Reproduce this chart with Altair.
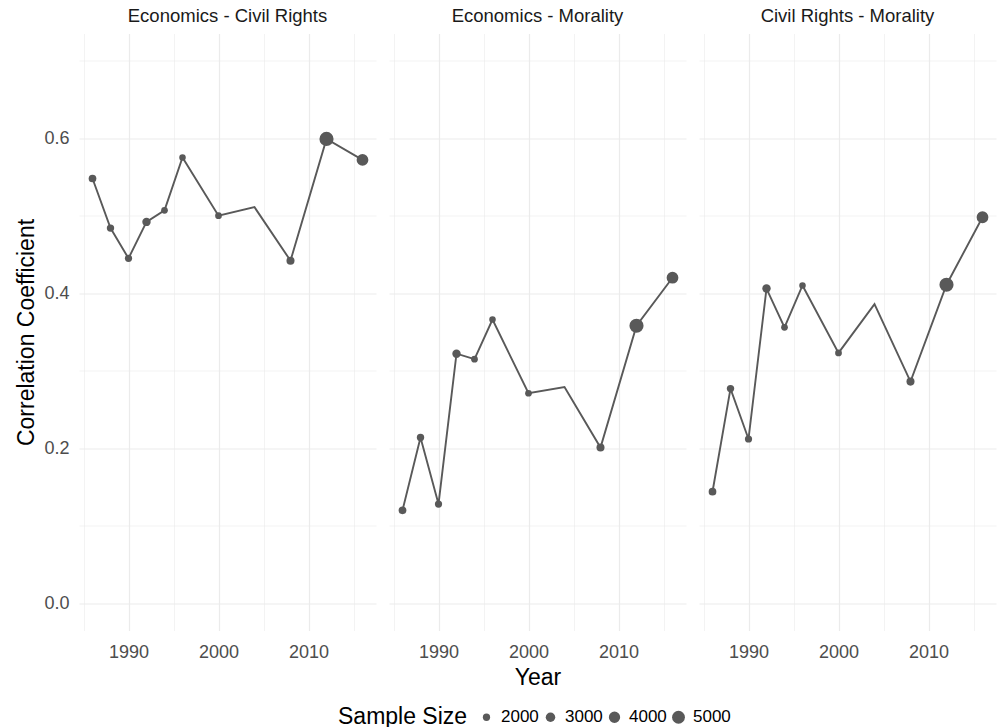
import altair as alt
import pandas as pd

# Survey years and the pairwise issue correlations
years = [1986, 1988, 1990, 1992, 1994, 1996, 2000, 2004, 2008, 2012, 2016]
pairs = ["Economics - Civil Rights", "Economics - Morality", "Civil Rights - Morality"]
econ_civil = [0.548, 0.484, 0.445, 0.492, 0.507, 0.575, 0.500, 0.511, 0.442, 0.599, 0.572]
econ_moral = [0.120, 0.214, 0.128, 0.322, 0.315, 0.366, 0.271, 0.279, 0.201, 0.358, 0.420]
civil_moral = [0.144, 0.277, 0.212, 0.406, 0.356, 0.410, 0.323, 0.386, 0.286, 0.411, 0.498]
# Respondents per survey year (no point drawn for 2004)
sample_size = [2176, 2040, 1980, 2485, 1795, 1714, 1807, None, 2322, 5914, 4270]
legend_sizes = [2000, 3000, 4000, 5000]

rows = []
for pair, vals in zip(pairs, [econ_civil, econ_moral, civil_moral]):
    for y, v, n in zip(years, vals, sample_size):
        rows.append({"pair": pair, "year": y, "r": v, "n": n})
df = pd.DataFrame(rows)

FONT = "Liberation Sans"
GREY = "#595959"

x_enc = alt.X(
    "year:Q",
    title=None,
    scale=alt.Scale(domain=[1984.5, 2017.5], nice=False, zero=False),
    axis=alt.Axis(
        values=[1985, 1990, 1995, 2000, 2005, 2010, 2015],
        labelExpr="datum.value % 10 === 0 ? datum.value : ''",
        grid=True,
        gridColor="#ebebeb",
        gridWidth={"condition": {"test": "datum.value % 10 === 0", "value": 1.2}, "value": 0.6},
        ticks=False,
        domain=False,
        labelFontSize=18,
        labelColor="#4d4d4d",
        labelPadding=13,
        labelFont=FONT,
    ),
)
y_enc = alt.Y(
    "r:Q",
    title="Correlation Coefficient",
    scale=alt.Scale(domain=[-0.035, 0.735], nice=False, zero=False),
    axis=alt.Axis(
        values=[0, 0.1, 0.2, 0.3, 0.4, 0.5, 0.6, 0.7],
        labelExpr="round(datum.value * 10) % 2 === 0 ? format(datum.value, '.1f') : ''",
        grid=True,
        gridColor="#ebebeb",
        gridWidth={"condition": {"test": "round(datum.value * 10) % 2 === 0", "value": 1.2}, "value": 0.6},
        ticks=False,
        domain=False,
        labelFontSize=18,
        labelColor="#4d4d4d",
        labelPadding=10,
        labelFont=FONT,
        titleFontSize=23,
        titleFontWeight="normal",
        titleColor="#000000",
        titleFont=FONT,
        titlePadding=5,
    ),
)

line = alt.Chart().mark_line(color=GREY, strokeWidth=1.9).encode(x=x_enc, y=y_enc)

points = (
    alt.Chart()
    .transform_filter("isValid(datum.n)")
    .mark_circle(color=GREY, opacity=1)
    .encode(
        x=x_enc,
        y=y_enc,
        size=alt.Size(
            "n:Q",
            scale=alt.Scale(domain=[1714, 5914], range=[42, 200], zero=False),
            legend=alt.Legend(
                title="Sample Size",
                values=legend_sizes,
                format="d",
                orient="none",
                direction="horizontal",
                legendX=259,
                legendY=675,
                titleOrient="left",
                titleFontSize=23,
                titleFontWeight="normal",
                titleColor="#000000",
                titleFont=FONT,
                titlePadding=10,
                labelFontSize=17,
                labelColor="#000000",
                labelFont=FONT,
                labelOffset=6,
                columnPadding=3,
                symbolFillColor=GREY,
                symbolStrokeWidth=0,
                symbolOpacity=1,
            ),
        ),
    )
)

chart = (
    alt.layer(line, points, data=df)
    .properties(width=297, height=597)
    .facet(
        column=alt.Column(
            "pair:N",
            sort=pairs,
            header=alt.Header(
                title="Year",
                titleOrient="bottom",
                labelOrient="top",
                labelFontSize=18.5,
                labelColor="#1a1a1a",
                labelFont=FONT,
                labelPadding=8,
                titleFontSize=23,
                titleFontWeight="normal",
                titleColor="#000000",
                titleFont=FONT,
                titlePadding=-5,
            ),
        ),
        spacing=13,
    )
    .properties(padding={"left": 15, "top": 6.5, "right": 2, "bottom": 0})
    .configure_view(stroke="transparent", strokeWidth=0)
    .configure(background="white", style={"cell": {"stroke": "transparent", "strokeWidth": 0}})
)

chart.save("out.html", embed_options={"renderer": "svg", "actions": False})
